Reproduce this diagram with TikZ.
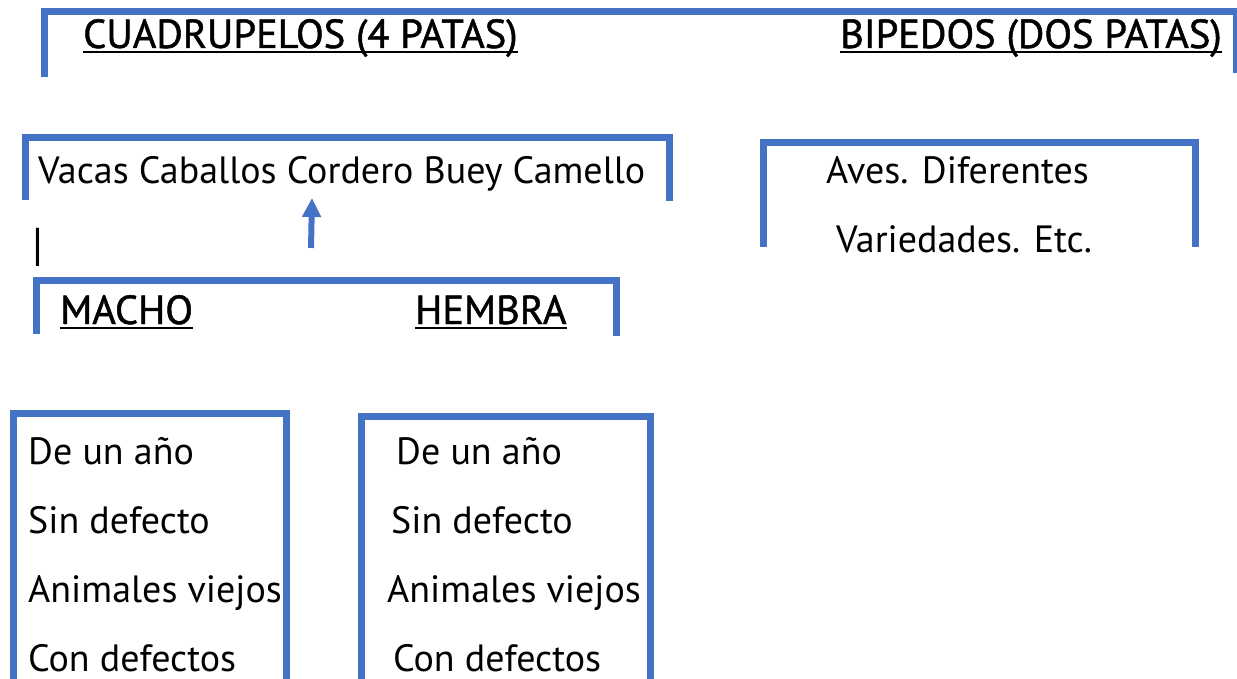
\documentclass[tikz,border=0pt]{standalone}
\usepackage{fontspec}
\setmainfont{PT Sans}
\newfontfamily\headfont[FakeBold=1.2]{PT Sans}
\usetikzlibrary{arrows.meta}
\definecolor{brblue}{HTML}{4472C4}
\tikzset{
  bracket/.style={draw=brblue, line width=7pt, line cap=rect},
  lbl/.style={anchor=base west, inner sep=0pt, font=\fontsize{38}{44}\selectfont},
  head/.style={anchor=base west, inner sep=0pt, font=\headfont\fontsize{40.5}{46}\selectfont},
  uline/.style={line width=2pt, black},
  arr/.style={draw=brblue, line width=6pt, -{Triangle[length=19pt,width=18pt]}}
}
\begin{document}
\begin{tikzpicture}[x=1pt,y=-1pt]
\useasboundingbox (0,0) rectangle (1237,679);
% top bracket
\draw[bracket] (44,74) -- (44,12) -- (1240,12);
\draw[bracket] (1236,12) -- (1236,70);
\node[head] (cuad) at (83,48) {CUADRUPELOS (4 PATAS)};
\node[head] (biped) at (840,48) {BIPEDOS (DOS PATAS)};
\draw[uline] ([yshift=-4pt]cuad.base west) -- ([yshift=-4pt]cuad.base east);
\draw[uline] ([yshift=-4pt]biped.base west) -- ([yshift=-4pt]biped.base east);
% animals bracket
\draw[bracket] (25,197) -- (25,138) -- (669,138) -- (669,198);
\node[lbl] (vacas) at (38,184) {Vacas Caballos Cordero Buey Camello};
\node[lbl, font=\fontsize{46}{50}\selectfont] (bar) at (32,261) {|};
\coordinate (arrS) at (311,248);
\coordinate (arrE) at (312,198);
\draw[arr] (arrS) -- (arrE);
% macho hembra bracket
\draw[bracket] (36,330) -- (36,280) -- (616,280) -- (616,332);
\node[head] (macho) at (60,324) {MACHO};
\node[head] (hembra) at (415,324) {HEMBRA};
\draw[uline] ([yshift=-4pt]macho.base west) -- ([yshift=-4pt]macho.base east);
\draw[uline] ([yshift=-4pt]hembra.base west) -- ([yshift=-4pt]hembra.base east);
% aves bracket
\draw[bracket] (763,244) -- (763,143) -- (1195,143) -- (1195,244);
\node[lbl] (aves) at (826,184) {Aves. Diferentes};
\node[lbl] (vari) at (836,253) {Variedades. Etc.};
% bottom boxes
\draw[bracket] (13,682) -- (13,413) -- (286,413) -- (286,682);
\draw[bracket] (361,676) -- (361,416) -- (650,416) -- (650,682);
\node[lbl] (m1) at (28,464) {De un año};
\node[lbl] (m2) at (28,533) {Sin defecto};
\node[lbl] (m3) at (28,602) {Animales viejos};
\node[lbl] (m4) at (28,671) {Con defectos};
\node[lbl] (h1) at (396,464) {De un año};
\node[lbl] (h2) at (391,533) {Sin defecto};
\node[lbl] (h3) at (387,602) {Animales viejos};
\node[lbl] (h4) at (393,671) {Con defectos};
\end{tikzpicture}
\end{document}
